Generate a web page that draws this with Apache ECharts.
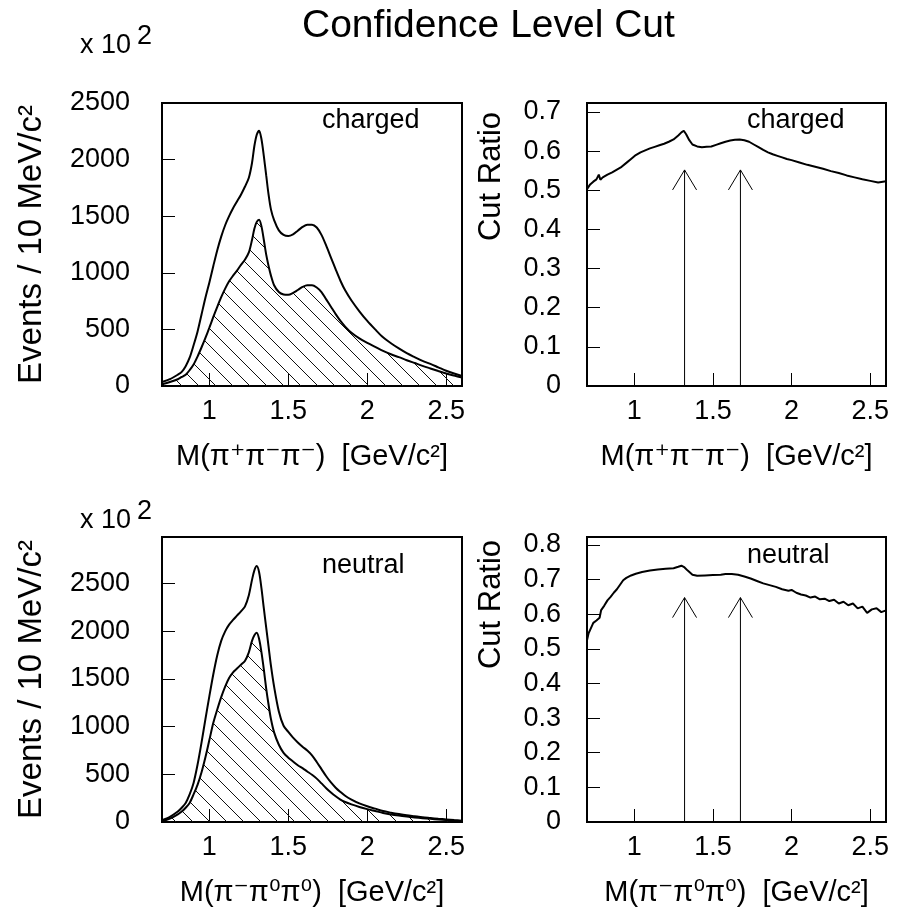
<!DOCTYPE html>
<html>
<head>
<meta charset="utf-8">
<script src="https://cdn.jsdelivr.net/npm/echarts@6/dist/echarts.min.js"></script>
<style>html,body{margin:0;padding:0;background:#fff;}#c{width:899px;height:913px;}</style>
</head>
<body>
<div id="c"></div>
<script>
// ---------------- data ----------------
const histMass = [0.70,0.75,0.80,0.825,0.85,0.875,0.90,0.925,0.95,0.975,1.00,1.025,1.05,1.075,1.10,1.125,1.15,1.175,1.20,1.225,1.25,1.27,1.285,1.30,1.315,1.33,1.345,1.36,1.375,1.39,1.41,1.44,1.47,1.50,1.53,1.56,1.59,1.62,1.65,1.68,1.71,1.74,1.77,1.80,1.83,1.86,1.90,1.95,2.00,2.05,2.10,2.15,2.20,2.25,2.30,2.35,2.40,2.45,2.50,2.55,2.60];
const chargedAll = [35,60,100,125,175,250,360,480,630,780,915,1060,1200,1320,1420,1500,1570,1630,1690,1760,1840,1970,2120,2220,2255,2180,2030,1860,1690,1560,1465,1375,1335,1325,1340,1372,1405,1425,1425,1400,1335,1240,1135,1030,930,845,755,660,575,500,430,378,332,290,255,222,195,165,135,110,88];
const chargedCut = [15,35,60,80,100,140,190,260,340,425,515,610,700,785,860,925,975,1020,1070,1115,1180,1290,1390,1450,1468,1410,1290,1160,1060,975,890,830,808,805,822,848,875,890,890,870,830,765,700,635,575,525,470,420,380,345,310,280,255,228,203,178,155,132,110,92,75];
const neutralAll = [20,55,110,150,200,290,410,600,830,1080,1320,1550,1750,1900,2000,2070,2120,2165,2210,2260,2380,2540,2640,2685,2620,2450,2240,2040,1840,1640,1420,1160,1010,945,885,835,790,750,700,630,555,480,415,360,315,275,235,195,165,140,115,98,83,70,60,50,42,34,27,20,14];
const neutralCut = [8,35,80,110,150,200,290,390,520,680,860,1040,1180,1310,1420,1510,1570,1610,1650,1690,1780,1900,1960,1985,1920,1780,1600,1400,1230,1080,940,810,725,675,635,595,565,530,495,455,405,355,310,270,235,210,185,158,135,115,95,79,67,57,48,40,33,26,20,14,8];

const ratioMassCharged = [0.70,0.72,0.74,0.76,0.775,0.785,0.80,0.83,0.86,0.89,0.92,0.95,0.98,1.01,1.04,1.07,1.10,1.13,1.16,1.19,1.22,1.25,1.28,1.30,1.315,1.33,1.35,1.37,1.40,1.43,1.46,1.49,1.52,1.55,1.58,1.61,1.64,1.67,1.70,1.73,1.76,1.79,1.82,1.85,1.88,1.91,1.94,1.97,2.00,2.05,2.10,2.15,2.20,2.25,2.30,2.35,2.40,2.45,2.50,2.55,2.60];
const ratioCharged = [0.503,0.515,0.522,0.528,0.540,0.527,0.533,0.540,0.546,0.553,0.560,0.570,0.580,0.590,0.597,0.602,0.607,0.611,0.615,0.619,0.624,0.630,0.640,0.648,0.652,0.643,0.628,0.617,0.612,0.610,0.611,0.612,0.616,0.620,0.624,0.627,0.629,0.630,0.628,0.624,0.617,0.610,0.603,0.597,0.592,0.588,0.584,0.580,0.577,0.571,0.565,0.560,0.555,0.549,0.544,0.538,0.533,0.528,0.524,0.520,0.523];

const ratioMassNeutral = [0.70,0.71,0.72,0.74,0.76,0.78,0.79,0.81,0.83,0.85,0.87,0.89,0.91,0.93,0.95,0.98,1.01,1.05,1.10,1.15,1.20,1.25,1.28,1.30,1.32,1.34,1.37,1.40,1.45,1.50,1.55,1.58,1.62,1.66,1.70,1.74,1.78,1.82,1.86,1.90,1.94,1.98,2.00,2.03,2.06,2.09,2.12,2.15,2.18,2.21,2.24,2.27,2.30,2.33,2.36,2.39,2.42,2.45,2.48,2.51,2.54,2.57,2.60];
const ratioNeutral = [0.525,0.545,0.555,0.575,0.582,0.590,0.612,0.625,0.640,0.650,0.662,0.672,0.685,0.698,0.705,0.712,0.717,0.722,0.726,0.729,0.731,0.733,0.737,0.740,0.735,0.726,0.714,0.711,0.712,0.713,0.714,0.716,0.716,0.714,0.709,0.703,0.696,0.689,0.684,0.679,0.672,0.668,0.670,0.662,0.657,0.654,0.648,0.651,0.643,0.645,0.638,0.642,0.631,0.636,0.626,0.631,0.617,0.622,0.604,0.614,0.617,0.606,0.611];

const arrowMass = [1.32, 1.675];
const arrowTipCharged = 0.552;
const arrowTipNeutral = 0.648;

const xTickValues = [1, 1.5, 2, 2.5];
const yMaxList = [2500, 0.723, 2990, 0.823];

// ---------------- helpers ----------------
const FONT = "'Liberation Sans', 'DejaVu Sans', sans-serif";
function zip(xs, ys) { return xs.map((x, i) => [x, ys[i]]); }

function hatchCanvas() {
  const s = 17;
  const c = document.createElement('canvas');
  c.width = s; c.height = s;
  const g = c.getContext('2d');
  g.strokeStyle = '#111';
  g.lineWidth = 1;
  g.beginPath();
  for (let k = -1; k <= 1; k++) {
    g.moveTo(0, k * s);
    g.lineTo(s, s + k * s);
  }
  g.stroke();
  return c;
}
const hatch = { image: hatchCanvas(), repeat: 'repeat' };

const grids = [
  { left: 162, top: 103, width: 300, height: 283 },
  { left: 587, top: 103, width: 299, height: 283 },
  { left: 162, top: 537, width: 300, height: 285 },
  { left: 587, top: 537, width: 299, height: 285 }
].map(g => Object.assign({ show: true, borderColor: '#000', borderWidth: 2, backgroundColor: 'transparent', containLabel: false }, g));

const xNames = [
  'M(π⁺π⁻π⁻)  [GeV/c²]', 'M(π⁺π⁻π⁻)  [GeV/c²]',
  'M(π⁻π⁰π⁰)  [GeV/c²]', 'M(π⁻π⁰π⁰)  [GeV/c²]'
];
const yNames = ['Events / 10 MeV/c²', 'Cut Ratio', 'Events / 10 MeV/c²', 'Cut Ratio'];
// shift of the rotated "Cut Ratio" names toward the top of their axes
const yNamePadding = [0, [0, 0, 0, 136], 0, [0, 0, 0, 150]];

const xAxes = [0, 1, 2, 3].map(i => ({
  type: 'value', gridIndex: i, min: 0.7, max: 2.6,
  axisLine: { show: false },
  splitLine: { show: false },
  axisTick: { show: true, inside: true, length: 13, customValues: xTickValues, lineStyle: { color: '#000', width: 1 } },
  axisLabel: { customValues: xTickValues, fontSize: 27, color: '#000', fontFamily: FONT, margin: 12 },
  name: xNames[i], nameLocation: 'middle', nameGap: 56,
  nameTextStyle: { fontSize: 29, color: '#000', fontFamily: FONT }
}));

const yAxes = [0, 1, 2, 3].map(i => {
  const ratio = (i % 2 === 1);
  return {
    type: 'value', gridIndex: i, min: 0, max: yMaxList[i], interval: ratio ? 0.1 : 500,
    axisLine: { show: false },
    splitLine: { show: false },
    axisTick: { show: true, inside: true, length: 13, lineStyle: { color: '#000', width: 1 } },
    axisLabel: {
      fontSize: 27, color: '#000', fontFamily: FONT, margin: ratio ? 26 : 32, interval: 0, showMaxLabel: i === 0,
      formatter: v => ratio ? String(Math.round(v * 10) / 10) : String(Math.round(v))
    },
    name: yNames[i], nameLocation: 'middle', nameGap: ratio ? 80 : 114,
    nameTextStyle: { fontSize: ratio ? 31 : 33, color: '#000', fontFamily: FONT, padding: yNamePadding[i] }
  };
});

function lineSeries(idx, xs, ys, withHatch, smooth) {
  const s = {
    type: 'line', xAxisIndex: idx, yAxisIndex: idx,
    data: zip(xs, ys), symbol: 'none', smooth: smooth,
    lineStyle: { color: '#000', width: 2 },
    silent: true, animation: false
  };
  if (withHatch) s.areaStyle = { color: hatch, opacity: 1 };
  return s;
}

function arrowSeries(idx, tip) {
  return {
    type: 'custom', xAxisIndex: idx, yAxisIndex: idx,
    data: arrowMass.map(m => [m, tip]),
    silent: true, animation: false,
    renderItem: function (params, api) {
      const x = api.value(0), y = api.value(1);
      const p0 = api.coord([x, 0]);
      const p1 = api.coord([x, y]);
      return {
        type: 'group',
        children: [
          { type: 'line', shape: { x1: p0[0], y1: p0[1], x2: p1[0], y2: p1[1] }, style: { stroke: '#000', lineWidth: 1 } },
          { type: 'polyline', shape: { points: [[p1[0] - 12, p1[1] + 20], [p1[0], p1[1]], [p1[0] + 12, p1[1] + 20]] }, style: { stroke: '#000', fill: null, lineWidth: 1 } }
        ]
      };
    }
  };
}

const series = [
  lineSeries(0, histMass, chargedCut, true, 0.3),
  lineSeries(0, histMass, chargedAll, false, 0.3),
  lineSeries(1, ratioMassCharged, ratioCharged, false, false),
  arrowSeries(1, arrowTipCharged),
  lineSeries(2, histMass, neutralCut, true, 0.3),
  lineSeries(2, histMass, neutralAll, false, 0.3),
  lineSeries(3, ratioMassNeutral, ratioNeutral, false, false),
  arrowSeries(3, arrowTipNeutral)
];

function txt(x, y, s, size) {
  return { type: 'text', x: x, y: y, silent: true,
    style: { text: s, fontSize: size, fontFamily: FONT, fill: '#000', align: 'left', verticalAlign: 'middle' } };
}

const option = {
  backgroundColor: '#fff',
  animation: false,
  title: {
    text: 'Confidence Level Cut', left: 297, top: 2,
    textStyle: { fontSize: 39, fontWeight: 'normal', color: '#000', fontFamily: FONT }
  },
  grid: grids,
  xAxis: xAxes,
  yAxis: yAxes,
  series: series,
  graphic: [
    txt(80, 46, 'x 10', 27), txt(137, 37, '2', 27),
    txt(80, 521, 'x 10', 27), txt(137, 512, '2', 27),
    txt(322, 121, 'charged', 27), txt(747, 121, 'charged', 27),
    txt(322, 566, 'neutral', 27), txt(747, 556, 'neutral', 27)
  ]
};

const chart = echarts.init(document.getElementById('c'), null, { renderer: 'canvas' });
chart.setOption(option);
</script>
</body>
</html>
